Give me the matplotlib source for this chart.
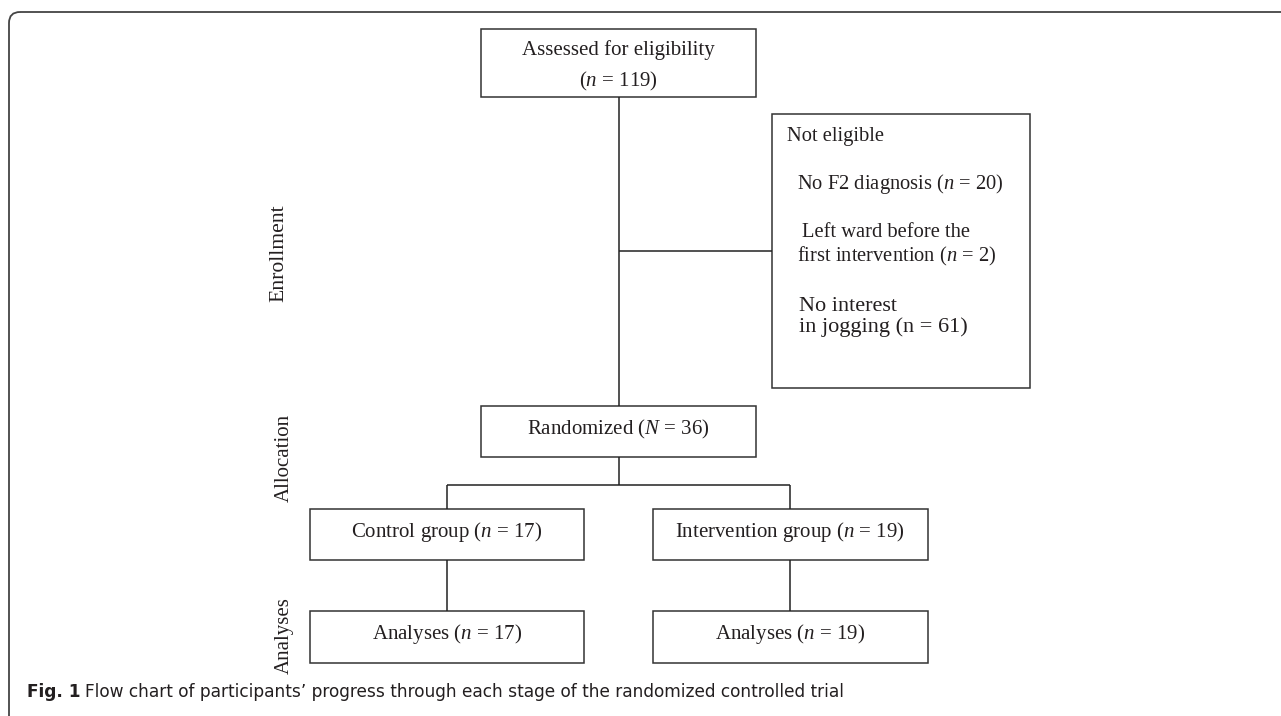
import matplotlib
matplotlib.use("Agg")
import matplotlib.pyplot as plt
from matplotlib.patches import Rectangle, FancyBboxPatch

# ---------------- data ----------------
stages = ["Enrollment", "Allocation", "Analyses"]
assessed_label = "Assessed for eligibility"
assessed_n = 119
excluded_title = "Not eligible"
excluded_reasons = ["No F2 diagnosis", " Left ward before the\nfirst intervention", "No interest\nin jogging"]
excluded_n = [20, 2, 61]
excluded_italic = [True, True, False]
randomized_label = "Randomized"
randomized_N = 36
group_labels = ["Control group", "Intervention group"]
group_n = [17, 19]
analysis_label = "Analyses"
analysis_n = [17, 19]
caption_bold = "Fig. 1"
caption_text = "Flow chart of participants\u2019 progress through each stage of the randomized controlled trial"

# ---------------- style ----------------
plt.rcParams["mathtext.fontset"] = "custom"
plt.rcParams["mathtext.rm"] = "Liberation Serif"
plt.rcParams["mathtext.it"] = "Liberation Serif:italic"
SERIF = "Liberation Serif"
EC = "#333333"
LW = 1.1
TXT = "#231f20"

fig = plt.figure(figsize=(12.81, 7.16), dpi=100)
ax = fig.add_axes([0, 0, 1, 1])
ax.set_xlim(0, 1281)
ax.set_ylim(716, 0)
ax.axis("off")

# outer frame (rounded top-left corner, open to right/bottom)
frame = FancyBboxPatch((9, 12), 1320, 760, boxstyle="round,pad=0,rounding_size=11",
                       fill=False, ec="#444444", lw=1.3)
ax.add_patch(frame)

def box(x0, y0, x1, y1):
    ax.add_patch(Rectangle((x0, y0), x1 - x0, y1 - y0, fill=False, ec=EC, lw=LW))

def line(xs, ys):
    ax.plot(xs, ys, color="#222222", lw=LW, solid_capstyle="butt")

def ntext(n, italic=True, sym="n"):
    return f"(${sym}$ = {n})" if italic else f"({sym} = {n})"

# layout (pixel coords)
cx_main = 618.5
top_box = (481, 28.5, 756, 97)
excl_box = (772, 114, 1030, 388)
rand_box = (481, 405.5, 756, 457)
branch_y = 485
gx = [446.8, 790.2]
gw = 137.3
grp_y = (508.5, 560)
ana_y = (611, 662.5)

FS = 15

# top box
box(*top_box)
ax.text(cx_main, 55, assessed_label, family=SERIF, fontsize=FS, ha="center", va="baseline", color=TXT)
ax.text(cx_main, 86.7, ntext(assessed_n), family=SERIF, fontsize=FS, ha="center", va="baseline", color=TXT)

# main vertical line and link to exclusion box
line([cx_main, cx_main], [top_box[3], rand_box[1]])
line([cx_main, excl_box[0]], [251, 251])

# exclusion box
box(*excl_box)
ax.text(787, 140.7, excluded_title, family=SERIF, fontsize=14.8, ha="left", va="baseline", color=TXT)
reason_pos = [(797, 189, 14.8), (797, 236.7, 14.8), (799, 310.7, 16)]
for (x, yb, fs), r, n, it in zip(reason_pos, excluded_reasons, excluded_n, excluded_italic):
    parts = r.split("\n")
    parts[-1] = parts[-1] + " " + ntext(n, it)
    step = 25 if fs < 15.5 else 21
    for k, p in enumerate(parts):
        xo = x + (5.5 if p.startswith(" ") else 0)
        ax.text(xo, yb + k * step, p.strip(), family=SERIF, fontsize=fs, ha="left", va="baseline", color=TXT)

# randomized
box(*rand_box)
ax.text(cx_main, 434, f"{randomized_label} " + ntext(randomized_N, True, "N"), family=SERIF, fontsize=FS,
        ha="center", va="baseline", color=TXT)

# branches
line([cx_main, cx_main], [rand_box[3], branch_y])
line([gx[0], gx[1]], [branch_y, branch_y])
for i, g in enumerate(group_labels):
    x = gx[i]
    line([x, x], [branch_y, grp_y[0]])
    box(x - gw, grp_y[0], x + gw, grp_y[1])
    ax.text(x, 537, f"{g} " + ntext(group_n[i]), family=SERIF, fontsize=FS, ha="center", va="baseline", color=TXT)
    line([x, x], [grp_y[1], ana_y[0]])
    box(x - gw, ana_y[0], x + gw, ana_y[1])
    ax.text(x, 638.5, f"{analysis_label} " + ntext(analysis_n[i]), family=SERIF, fontsize=FS,
            ha="center", va="baseline", color=TXT)

# stage labels
stage_pos = [(279, 253), (284, 458), (284, 636)]
stage_fs = [15.6, 15, 15]
for s, (x, y), fs in zip(stages, stage_pos, stage_fs):
    ax.text(x, y, s, family=SERIF, fontsize=fs, rotation=90, ha="center", va="center", color=TXT)

# caption (fit to the reference's horizontal extent)
cap_font = "DejaVu Sans"
cap_x0, cap_x1, cap_base = 27, 854, 697
fig.canvas.draw()
r = fig.canvas.get_renderer()

def draw_caption(fs):
    a = ax.text(cap_x0, cap_base, caption_bold, family=cap_font, fontsize=fs, fontweight="bold",
                ha="left", va="baseline", color=TXT)
    fig.canvas.draw()
    bb = a.get_window_extent(r)
    b = ax.text(bb.x1 + fs * 0.35, cap_base, caption_text, family=cap_font, fontsize=fs,
                ha="left", va="baseline", color=TXT)
    fig.canvas.draw()
    return a, b, b.get_window_extent(r).x1

fs = 12.5
for _ in range(3):
    a, b, xend = draw_caption(fs)
    a.remove(); b.remove()
    fs = fs * (cap_x1 - cap_x0) / (xend - cap_x0)
draw_caption(fs)

fig.savefig("out.png", dpi=100)
